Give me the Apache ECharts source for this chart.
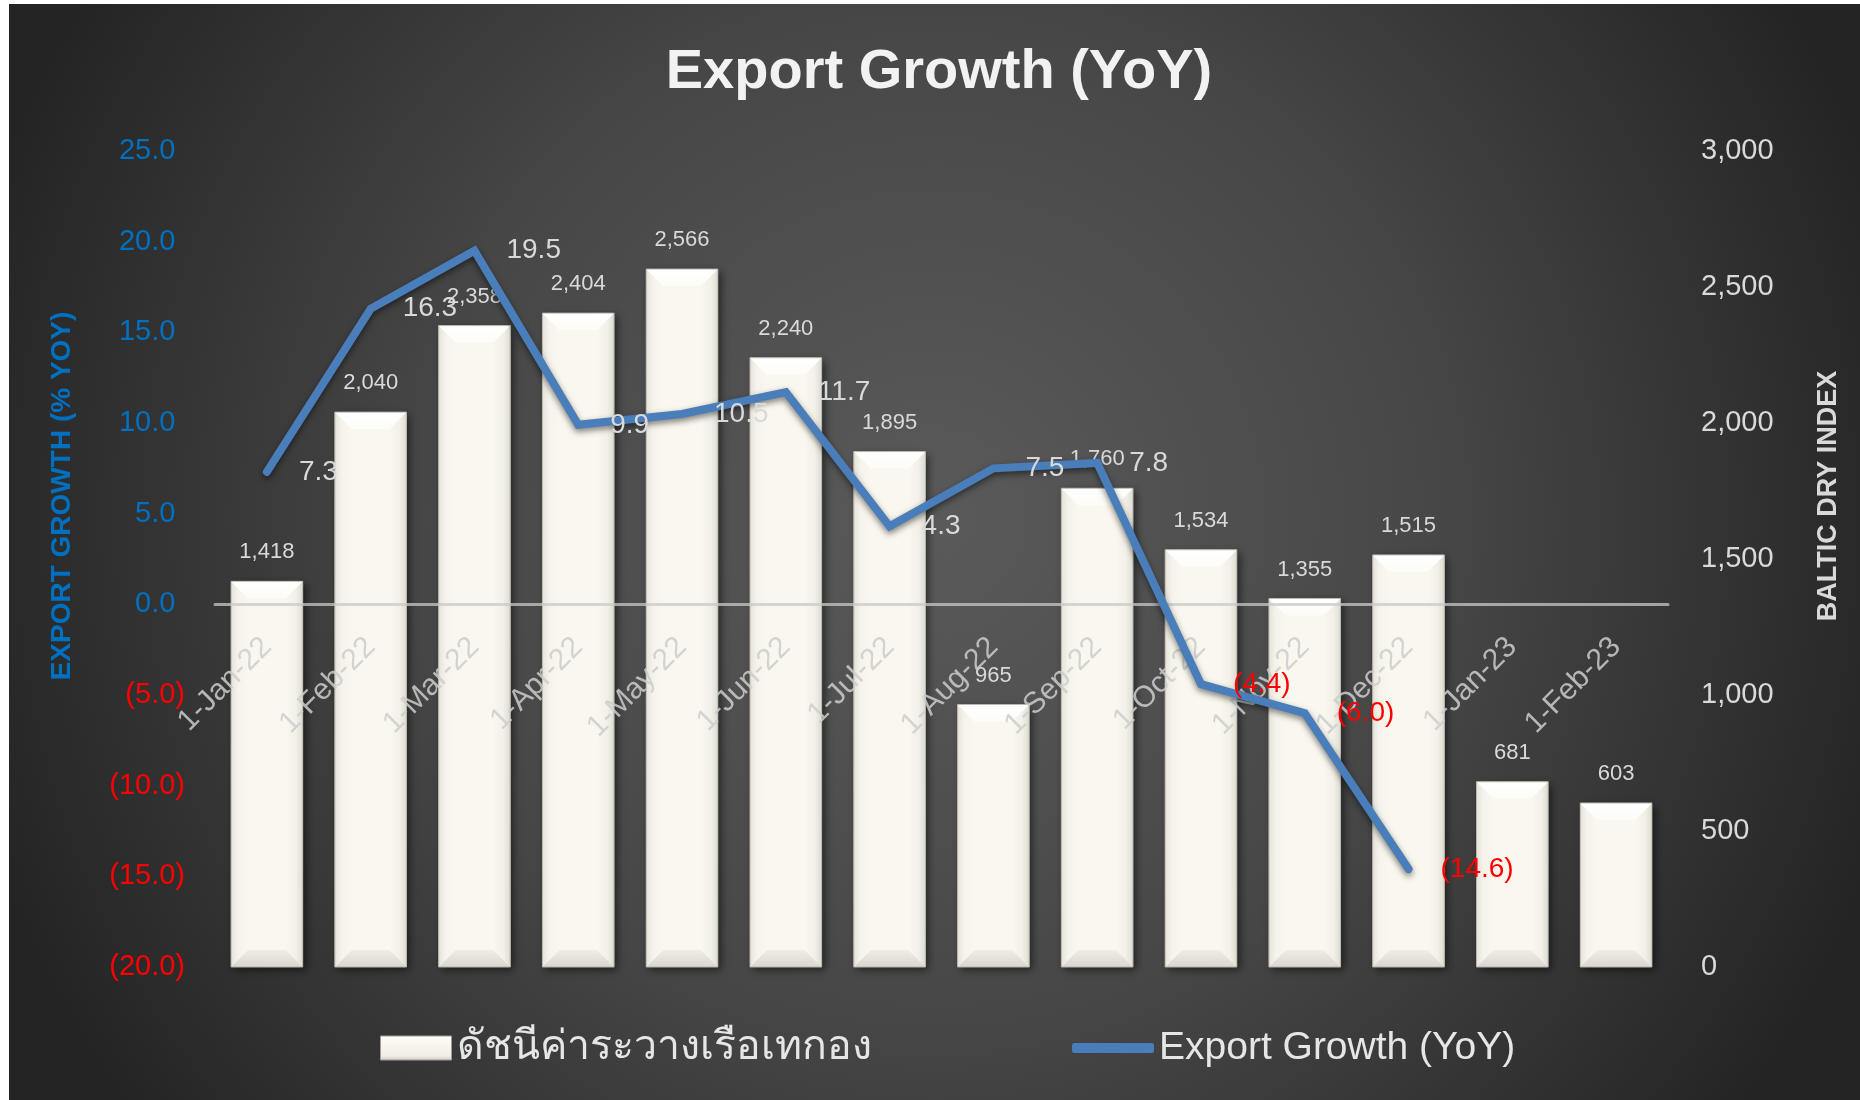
<!DOCTYPE html>
<html>
<head>
<meta charset="utf-8">
<title>Export Growth (YoY)</title>
<script src="https://cdn.jsdelivr.net/npm/echarts@6/dist/echarts.min.js"></script>
<style>
  html, body { margin: 0; padding: 0; background: #ffffff; }
  #main { width: 1860px; height: 1100px; }
</style>
</head>
<body>
<div id="main"></div>
<script>
// ข้อมูล
var categories = ['1-Jan-22', '1-Feb-22', '1-Mar-22', '1-Apr-22', '1-May-22', '1-Jun-22', '1-Jul-22',
  '1-Aug-22', '1-Sep-22', '1-Oct-22', '1-Nov-22', '1-Dec-22', '1-Jan-23', '1-Feb-23'];
var bdiValues = [1418, 2040, 2358, 2404, 2566, 2240, 1895, 965, 1760, 1534, 1355, 1515, 681, 603];
var growthValues = [7.3, 16.3, 19.5, 9.9, 10.5, 11.7, 4.3, 7.5, 7.8, -4.4, -6.0, -14.6, null, null];
var growthTicks = [-20, 25, 5];   // min, max, interval
var bdiTicks = [0, 3000, 500];
var barName = 'ดัชนีค่าระวางเรือเทกอง';
var lineName = 'Export Growth (YoY)';

var BAR_RATIO = 0.69;
var FONT = 'Liberation Sans, Noto Sans, sans-serif';
var GRID = { left: 215, right: 192, top: 151, bottom: 133 };
var plotH = 1100 - GRID.top - GRID.bottom;
// ระยะจากขอบล่างถึงเส้น 0 ของแกนซ้าย (ให้ป้ายวันที่อยู่ใต้เส้น 0)
var zeroOffset = plotH * (0 - growthTicks[0]) / (growthTicks[1] - growthTicks[0]);

var chart = echarts.init(document.getElementById('main'));

function fmtThousands(v) {
  return String(v).replace(/\B(?=(\d{3})+(?!\d))/g, ',');
}

// วาดขอบนูนของแท่ง
function renderBevel(params, api) {
  var top = api.coord([api.value(0), api.value(1)]);
  var base = api.coord([api.value(0), 0]);
  var w = api.size([1, 0])[0] * BAR_RATIO;
  var x0 = top[0] - w / 2, x1 = top[0] + w / 2;
  var yt = top[1], yb = base[1];
  var b = Math.min(17, (yb - yt) / 2, w / 2);
  return {
    type: 'group',
    children: [
      { type: 'polygon', shape: { points: [[x0, yt], [x0 + b, yt + b], [x0 + b, yb - b], [x0, yb]] },
        style: { fill: new echarts.graphic.LinearGradient(0, 0, 1, 0, [
          { offset: 0, color: '#e6e4da' }, { offset: 0.4, color: '#f6f4ea' }, { offset: 1, color: '#faf8ee' }]) } },
      { type: 'polygon', shape: { points: [[x1, yt], [x1 - b, yt + b], [x1 - b, yb - b], [x1, yb]] },
        style: { fill: new echarts.graphic.LinearGradient(0, 0, 1, 0, [
          { offset: 0, color: '#faf8ee' }, { offset: 0.6, color: '#f3f1e7' }, { offset: 1, color: '#dedcd2' }]) } },
      { type: 'polygon', shape: { points: [[x0, yt], [x1, yt], [x1 - b, yt + b], [x0 + b, yt + b]] },
        style: { fill: new echarts.graphic.LinearGradient(0, 0, 0, 1, [
          { offset: 0, color: '#ffffff' }, { offset: 1, color: '#fdfcf7' }]) } },
      { type: 'polygon', shape: { points: [[x0, yb], [x1, yb], [x1 - b, yb - b], [x0 + b, yb - b]] },
        style: { fill: new echarts.graphic.LinearGradient(0, 0, 0, 1, [
          { offset: 0, color: '#efede4' }, { offset: 1, color: '#d8d6cd' }]) } },
      { type: 'rect', shape: { x: x0, y: yt, width: w, height: yb - yt },
        style: { fill: null, stroke: '#b8b6ad', lineWidth: 1 } }
    ]
  };
}

var option = {
  backgroundColor: '#ffffff',
  animation: false,
  graphic: [
    {
      type: 'rect', z: -100, silent: true,
      shape: { x: 9, y: 4, width: 1851, height: 1096 },
      style: {
        fill: new echarts.graphic.RadialGradient(935, 520, 1000, [
          { offset: 0, color: '#5a5a5a' },
          { offset: 0.5, color: '#474747' },
          { offset: 1, color: '#242424' }
        ], true)
      }
    },
    {
      type: 'text', x: 939, y: 73, z: 10,
      style: {
        text: 'Export Growth (YoY)', fill: '#f2f2f2',
        font: 'bold 56px ' + FONT, align: 'center', verticalAlign: 'middle',
        shadowColor: 'rgba(0,0,0,0.7)', shadowBlur: 4, shadowOffsetX: 2, shadowOffsetY: 3
      }
    },
    {
      type: 'text', x: 62, y: 496, rotation: Math.PI / 2, z: 10,
      style: {
        text: 'EXPORT GROWTH (% YOY)', fill: '#0070c0',
        font: 'bold 28px ' + FONT, align: 'center', verticalAlign: 'middle'
      }
    },
    {
      type: 'text', x: 1829, y: 496, rotation: Math.PI / 2, z: 10,
      style: {
        text: 'BALTIC DRY INDEX', fill: '#d9d9d9',
        font: 'bold 27px ' + FONT, align: 'center', verticalAlign: 'middle'
      }
    }
  ],
  grid: { left: GRID.left, right: GRID.right, top: GRID.top, bottom: GRID.bottom, outerBoundsMode: 'none' },
  legend: [
    {
      left: 375, top: 1022, itemWidth: 71, itemHeight: 24, itemGap: 0,
      data: [{ name: barName, icon: 'rect',
        itemStyle: { color: new echarts.graphic.LinearGradient(0, 0, 0, 1, [
          { offset: 0, color: '#ffffff' }, { offset: 0.3, color: '#f9f7ed' },
          { offset: 0.8, color: '#f2f0e6' }, { offset: 1, color: '#cfcdc4' }]),
          borderColor: '#9e9c94', borderWidth: 1 } }],
      textStyle: { color: '#e6e6e6', fontSize: 41, fontFamily: FONT, lineHeight: 42 }
    },
    {
      left: 1067, top: 1022, itemWidth: 82, itemHeight: 10, itemGap: 0,
      data: [{ name: lineName, icon: 'roundRect', itemStyle: { color: '#4a7ebb' } }],
      textStyle: { color: '#e6e6e6', fontSize: 39, fontFamily: FONT, lineHeight: 42 }
    }
  ],
  xAxis: [
    {
      type: 'category',
      data: categories,
      z: 4,
      axisLine: { onZero: true, onZeroAxisIndex: 0, lineStyle: { color: 'rgba(200,200,200,0.75)', width: 3 } },
      axisTick: { show: false },
      axisLabel: { show: false }
    },
    {
      type: 'category',
      data: categories,
      position: 'bottom',
      offset: -zeroOffset,
      z: 4,
      axisLine: { show: false, onZero: false },
      axisTick: { show: false },
      axisLabel: {
        rotate: 45, margin: 38, interval: 0,
        color: 'rgba(205,205,205,0.85)', fontSize: 30, fontFamily: FONT
      }
    }
  ],
  yAxis: [
    {
      type: 'value',
      min: growthTicks[0], max: growthTicks[1], interval: growthTicks[2],
      axisLine: { show: false }, axisTick: { show: false }, splitLine: { show: false },
      axisLabel: {
        margin: 30,
        formatter: function (v) {
          if (v < 0) return '{n|(' + Math.abs(v).toFixed(1) + ')}';
          return '{p|' + v.toFixed(1) + '}{h|)}';
        },
        rich: {
          p: { color: '#0070c0', fontSize: 29, fontFamily: FONT },
          n: { color: '#ff0000', fontSize: 29, fontFamily: FONT },
          h: { color: 'rgba(0,0,0,0)', fontSize: 29, fontFamily: FONT }
        }
      }
    },
    {
      type: 'value',
      min: bdiTicks[0], max: bdiTicks[1], interval: bdiTicks[2],
      axisLine: { show: false }, axisTick: { show: false }, splitLine: { show: false },
      axisLabel: {
        margin: 33, color: '#d9d9d9', fontSize: 29, fontFamily: FONT,
        formatter: function (v) { return fmtThousands(v); }
      }
    }
  ],
  series: [
    {
      name: barName,
      type: 'bar',
      yAxisIndex: 1,
      barWidth: (BAR_RATIO * 100) + '%',
      z: 2,
      data: bdiValues,
      itemStyle: {
        color: '#faf8ee',
        shadowColor: 'rgba(0,0,0,0.55)', shadowBlur: 8, shadowOffsetX: 3, shadowOffsetY: 3
      },
      label: {
        show: true, position: 'top', distance: 18,
        color: '#d9d9d9', fontSize: 22, fontFamily: FONT,
        formatter: function (p) { return fmtThousands(p.value); }
      }
    },
    {
      name: 'bevel',
      type: 'custom',
      yAxisIndex: 1,
      z: 3,
      silent: true,
      renderItem: renderBevel,
      data: bdiValues.map(function (v, i) { return [i, v]; })
    },
    {
      name: lineName,
      type: 'line',
      yAxisIndex: 0,
      z: 6,
      data: growthValues,
      symbol: 'circle',
      symbolSize: 2,
      showSymbol: true,
      connectNulls: false,
      itemStyle: { color: '#4a7ebb' },
      lineStyle: {
        color: '#4a7ebb', width: 8, cap: 'round', join: 'miter',
        shadowColor: 'rgba(0,0,0,0.5)', shadowBlur: 6, shadowOffsetY: 3
      },
      label: {
        show: true, position: 'right', distance: 31,
        formatter: function (p) {
          var v = p.value;
          if (v == null) return '';
          if (v < 0) return '{n|(' + Math.abs(v).toFixed(1) + ')}';
          return '{p|' + v.toFixed(1) + '}';
        },
        rich: {
          p: { color: '#d9d9d9', fontSize: 28, fontFamily: FONT },
          n: { color: '#ff0000', fontSize: 28, fontFamily: FONT }
        }
      }
    }
  ]
};

chart.setOption(option);
</script>
</body>
</html>
